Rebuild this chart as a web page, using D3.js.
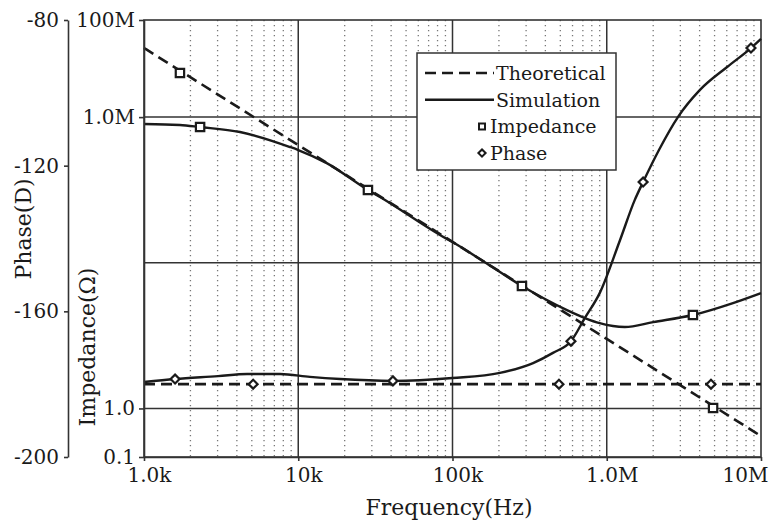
<!DOCTYPE html>
<html>
<head>
<meta charset="utf-8">
<script src="https://cdn.jsdelivr.net/npm/d3@7"></script>
<style>
  body { margin: 0; background: #fff; }
  text { font-family: "DejaVu Serif", serif; fill: #1a1a1a; }
</style>
</head>
<body>
<svg id="chart"></svg>
<script>
const width = 773;
const height = 524;

// Axis ticks
const freqTicks = [1e3, 1e4, 1e5, 1e6, 1e7];
const freqLabels = ["1.0k", "10k", "100k", "1.0M", "10M"];
const impTicks = [1e8, 1e6, 1, 0.1];
const impLabels = ["100M", "1.0M", "1.0", "0.1"];
const impGrid = [1e6, 1e3, 1];
const phaseTicks = [-80, -120, -160, -200];

// Theoretical impedance (dashed)
const theoImpFreq = [1e3, 1e4, 1e5, 1e6, 1e7];
const theoImpVal = [2.65e7, 2.66e5, 2.7e3, 27, 0.27];

// Simulated impedance (solid)
const simImpFreq = [1e3, 1.71e3, 2.31e3, 4.19e3, 8.85e3, 1e4, 1.53e4, 2.83e4, 3.39e4, 8.3e4, 1e5,
  1.65e5, 2.82e5, 5.52e5, 7.22e5, 9.0e5, 1.31e6, 2.0e6, 3.62e6, 6.58e6, 1e7];
const simImpVal = [7.2e5, 6.9e5, 6.25e5, 4.93e5, 2.42e5, 2.1e5, 1.13e5, 3.15e4, 2.26e4, 3.73e3, 2.67e3,
  990, 332, 106, 72.8, 57, 47.5, 60, 84, 148, 238];

// Theoretical phase (dashed)
const theoPhaseFreq = [1e3, 1e7];
const theoPhaseVal = [-180, -180];

// Simulated phase (solid)
const simPhaseFreq = [1e3, 1.59e3, 3.02e3, 4.66e3, 7.62e3, 1.19e4, 1.87e4, 4.11e4, 1e5, 2.03e5, 3.33e5,
  4.48e5, 5.86e5, 7.22e5, 9.0e5, 1.22e6, 1.52e6, 1.72e6, 2.18e6, 2.9e6, 4.02e6, 6.03e6, 8.61e6, 1e7];
const simPhaseVal = [-179.4, -178.6, -177.8, -177.2, -177.2, -178.0, -178.6, -179.1, -178.3, -176.9, -174.2,
  -171.4, -168.2, -161.8, -155.0, -140.4, -129.4, -124.5, -115.7, -106.6, -99.2, -92.9, -87.7, -85.2];

// Markers
const theoImpMarkFreq = [1.71e3, 4.89e6];
const theoImpMarkVal = [8.1e6, 1.02];
const simImpMarkFreq = [2.31e3, 2.83e4, 2.82e5, 3.62e6];
const simImpMarkVal = [6.25e5, 3.15e4, 332, 84];
const theoPhaseMarkFreq = [5.1e3, 4.9e5, 4.74e6];
const theoPhaseMarkVal = [-180, -180, -180];
const simPhaseMarkFreq = [1.59e3, 4.11e4, 5.86e5, 1.72e6, 8.61e6];
const simPhaseMarkVal = [-178.6, -179.1, -168.2, -124.5, -87.7];

const legendItems = ["Theoretical", "Simulation", "Impedance", "Phase"];

const plot = { left: 144, right: 761, top: 20, bottom: 457 };
const ink = "#1a1a1a";

const svg = d3.select("#chart").attr("width", width).attr("height", height);
svg.append("rect").attr("width", width).attr("height", height).attr("fill", "#fff");

// Scales
const x = d3.scaleLog().domain([1e3, 1e7]).range([plot.left, plot.right]);
const yImp = d3.scaleLog().domain([0.1, 1e8]).range([plot.bottom, plot.top]);
const yPhase = d3.scaleLinear().domain([-200, -80]).range([plot.bottom, plot.top]);

// Minor vertical grid (dotted)
const minor = [];
[1e3, 1e4, 1e5, 1e6].forEach((dec) => {
  for (let k = 2; k <= 9; k++) minor.push(dec * k);
});
svg.append("g").selectAll("line").data(minor).enter().append("line")
  .attr("x1", (d) => x(d)).attr("x2", (d) => x(d))
  .attr("y1", plot.top).attr("y2", plot.bottom)
  .attr("stroke", "#777").attr("stroke-width", 1.3)
  .attr("stroke-dasharray", "1.3,3.7");

// Major grid
svg.append("g").selectAll("line").data([1e4, 1e5, 1e6]).enter().append("line")
  .attr("x1", (d) => x(d)).attr("x2", (d) => x(d))
  .attr("y1", plot.top).attr("y2", plot.bottom)
  .attr("stroke", "#333").attr("stroke-width", 1.5);
svg.append("g").selectAll("line").data(impGrid).enter().append("line")
  .attr("x1", plot.left).attr("x2", plot.right)
  .attr("y1", (d) => yImp(d)).attr("y2", (d) => yImp(d))
  .attr("stroke", "#333").attr("stroke-width", 1.5);

svg.append("rect")
  .attr("x", plot.left).attr("y", plot.top)
  .attr("width", plot.right - plot.left).attr("height", plot.bottom - plot.top)
  .attr("fill", "none").attr("stroke", "#333").attr("stroke-width", 1.6);

// Curves
const zip = (a, b) => a.map((v, i) => [v, b[i]]);
const impLine = d3.line().x((d) => x(d[0])).y((d) => yImp(d[1])).curve(d3.curveMonotoneX);
const phaseLine = d3.line().x((d) => x(d[0])).y((d) => yPhase(d[1])).curve(d3.curveMonotoneX);

svg.append("path").datum(zip(theoImpFreq, theoImpVal)).attr("d", impLine)
  .attr("fill", "none").attr("stroke", ink).attr("stroke-width", 2.6).attr("stroke-dasharray", "11,6");
svg.append("path").datum(zip(theoPhaseFreq, theoPhaseVal)).attr("d", phaseLine)
  .attr("fill", "none").attr("stroke", ink).attr("stroke-width", 2.6).attr("stroke-dasharray", "11,6");
svg.append("path").datum(zip(simImpFreq, simImpVal)).attr("d", impLine)
  .attr("fill", "none").attr("stroke", ink).attr("stroke-width", 2.4);
svg.append("path").datum(zip(simPhaseFreq, simPhaseVal)).attr("d", phaseLine)
  .attr("fill", "none").attr("stroke", ink).attr("stroke-width", 2.4);

// Markers: open squares, and squares turned 45 degrees for the phase
const square = d3.symbol().type(d3.symbolSquare).size(70);
const diamond = d3.symbol().type(d3.symbolSquare).size(40);

function markers(data, ys, sym, rot) {
  svg.append("g").selectAll("path").data(data).enter().append("path")
    .attr("d", sym)
    .attr("transform", (d) => `translate(${x(d[0])},${ys(d[1])}) rotate(${rot})`)
    .attr("fill", "#fff").attr("stroke", ink).attr("stroke-width", 2.2);
}
markers(zip(theoImpMarkFreq, theoImpMarkVal), yImp, square, 0);
markers(zip(simImpMarkFreq, simImpMarkVal), yImp, square, 0);
markers(zip(theoPhaseMarkFreq, theoPhaseMarkVal), yPhase, diamond, 45);
markers(zip(simPhaseMarkFreq, simPhaseMarkVal), yPhase, diamond, 45);

// Axes
const xAxis = d3.axisBottom(x).tickValues(freqTicks)
  .tickFormat((d, i) => freqLabels[i]).tickSize(4).tickSizeOuter(0).tickPadding(7);
const impAxis = d3.axisLeft(yImp).tickValues(impTicks)
  .tickFormat((d, i) => impLabels[i]).tickSize(5).tickSizeOuter(0).tickPadding(4);
const phaseAxis = d3.axisLeft(yPhase).tickValues(phaseTicks)
  .tickFormat((d) => String(d)).tickSize(4).tickSizeOuter(0).tickPadding(5);

function styleAxis(g) {
  g.selectAll("path, line").attr("stroke", "#333").attr("stroke-width", 1.6);
  g.selectAll("text").style("font-family", "DejaVu Serif").style("font-size", "20px").attr("fill", ink);
}
const gx = svg.append("g").attr("transform", `translate(0,${plot.bottom})`).call(xAxis).call(styleAxis);
// labels sit a little right of their ticks; the last one is pulled inside the frame
gx.selectAll(".tick text")
  .attr("dx", (d, i) => (i === freqTicks.length - 1 ? 7 : 5))
  .attr("text-anchor", (d, i) => (i === freqTicks.length - 1 ? "end" : "middle"));
svg.append("g").attr("transform", `translate(${plot.left},0)`).call(impAxis).call(styleAxis);
svg.append("g").attr("transform", "translate(68,0)").call(phaseAxis).call(styleAxis);

// Axis titles
svg.append("text").attr("x", 449).attr("y", 515).attr("text-anchor", "middle")
  .style("font-size", "22px").text("Frequency(Hz)");
svg.append("text").attr("transform", "translate(31,229) rotate(-90)").attr("text-anchor", "middle")
  .style("font-size", "22px").text("Phase(D)");
svg.append("text").attr("transform", "translate(95,347) rotate(-90)").attr("text-anchor", "middle")
  .style("font-size", "22px").text("Impedance(Ω)");

// Legend
const legend = svg.append("g").attr("transform", "translate(417,53)");
legend.append("rect").attr("width", 199).attr("height", 117)
  .attr("fill", "#fff").attr("stroke", "#333").attr("stroke-width", 1.5);
const rowY = (i) => 20 + i * 26.7;
legend.append("line").attr("x1", 8).attr("x2", 77).attr("y1", rowY(0)).attr("y2", rowY(0))
  .attr("stroke", ink).attr("stroke-width", 2.6).attr("stroke-dasharray", "11,6");
legend.append("line").attr("x1", 8).attr("x2", 77).attr("y1", rowY(1)).attr("y2", rowY(1))
  .attr("stroke", ink).attr("stroke-width", 2.4);
legend.append("path").attr("d", d3.symbol().type(d3.symbolSquare).size(36))
  .attr("transform", `translate(65,${rowY(2)})`)
  .attr("fill", "#fff").attr("stroke", ink).attr("stroke-width", 2);
legend.append("path").attr("d", d3.symbol().type(d3.symbolSquare).size(26))
  .attr("transform", `translate(65,${rowY(3)}) rotate(45)`)
  .attr("fill", "#fff").attr("stroke", ink).attr("stroke-width", 2);
legend.selectAll(".lt").data(legendItems).enter().append("text")
  .attr("class", "lt")
  .attr("x", (d, i) => (i < 2 ? 79 : 73))
  .attr("y", (d, i) => rowY(i) + 7)
  .style("font-size", "19px")
  .text((d) => d);
</script>
</body>
</html>
